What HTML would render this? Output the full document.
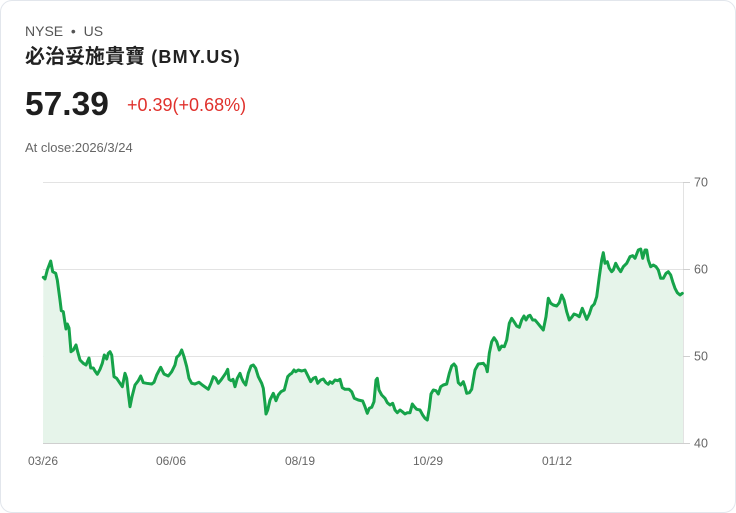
<!DOCTYPE html>
<html><head><meta charset="utf-8">
<style>
html,body{margin:0;padding:0;background:#fff;}
body{width:736px;height:513px;overflow:hidden;position:relative;font-family:"Liberation Sans","Noto Sans CJK TC",sans-serif;}
.card{position:absolute;left:0;top:0;width:734px;height:511px;border:1px solid #e2e6ec;border-radius:12px;background:#fff;}
.t{position:absolute;white-space:nowrap;line-height:1;}
</style></head><body>
<div class="card"></div>
<div class="t" style="left:25px;top:24px;font-size:14px;color:#555;">NYSE&nbsp; • &nbsp;US</div>
<div class="t" style="left:25px;top:47px;font-size:20px;font-weight:bold;color:#222;"><span>必治妥施貴寶</span><span style="font-size:18px;letter-spacing:1.2px;"> (BMY.US)</span></div>
<div class="t" style="left:25px;top:88px;font-size:33.5px;font-weight:bold;color:#1e1e1e;">57.39</div>
<div class="t" style="left:127px;top:96px;font-size:18px;color:#e0312c;">+0.39(+0.68%)</div>
<div class="t" style="left:25px;top:141px;font-size:13px;color:#666;">At close:2026/3/24</div>
<svg width="736" height="513" style="position:absolute;left:0;top:0;" xmlns="http://www.w3.org/2000/svg">
<g stroke="#e3e3e3" stroke-width="1">
<line x1="43" y1="182.5" x2="690" y2="182.5"/>
<line x1="43" y1="269.5" x2="690" y2="269.5"/>
<line x1="43" y1="356.5" x2="690" y2="356.5"/>
<line x1="683.5" y1="182" x2="683.5" y2="443"/>
</g>
<path fill="#e6f4ea" stroke="none" d="M43.3,277.3 L45,279 L47.3,270 L50.7,261 L52.7,271.7 L55.7,273.3 L57.3,280 L60,300 L61.3,310.7 L63.3,311.7 L65,323 L66,329 L67.3,324 L69,328 L71,351.7 L73.3,350 L76,345 L77.7,351.7 L80,360 L83.3,363.3 L86,365 L89,358 L90.7,368 L93.3,368 L95,371 L97.3,374.3 L100,369.3 L102.3,363.3 L104.3,355 L106.7,359 L108.3,353.3 L110,351.7 L111.7,355 L114,376.7 L116.7,378.3 L120,383.3 L122.3,386.7 L125,373.3 L126.7,378.3 L128.3,393.3 L130,406.7 L132,396.7 L135,385 L138.3,380.7 L140.7,376 L143.3,382.7 L146.7,383.3 L151.7,384 L154,382.3 L156.7,375 L160.7,367.3 L164,374 L168.3,376 L171.7,371.7 L175,365 L176.7,357.3 L179.3,355 L181.7,350 L184,356.7 L186.7,366.7 L189,378.3 L191.7,383.3 L195,384 L199,382.3 L202.3,385 L208.3,389.3 L211,383.3 L213.3,376.7 L215.7,378.3 L218.3,383.3 L221,380 L223.3,376.7 L225.7,373.3 L227.7,369.3 L229,379.3 L231,380.7 L233,379.3 L235,386.7 L237.3,378.3 L240,373.3 L241.7,378.3 L243.3,381.7 L245.7,385 L248.3,373.3 L251,366 L253.3,365 L255.7,368.3 L258.3,376.7 L261.7,383.3 L263.3,388.3 L265,403.3 L266,414 L267.7,410 L270,400 L273.3,393.3 L276,400.7 L278.3,395 L281,391.7 L284.3,390 L287.7,376.7 L290,374.3 L291.7,373.3 L294,370 L295.7,371.7 L298.3,370 L301.7,371 L305,370 L308.3,376.7 L310.7,381.7 L313.3,378.3 L315.7,377.3 L317.7,383.3 L320.7,380 L323.3,379 L326,382.7 L328.3,384.3 L330,381.7 L332.3,383.3 L335,380 L337.7,380.7 L340,379.3 L342.3,387.7 L345,389.3 L349,389.3 L351.7,391.7 L354.3,398.3 L356,399 L358.3,400 L362.7,401 L365,406.7 L367.3,413.3 L369.3,408.3 L371.7,407.3 L374,401.7 L376,380 L377.3,378.3 L379,390 L381.7,395 L385,398.3 L387.3,402.7 L390,405 L392.7,403.3 L395,410 L397.3,412.7 L400,410 L402.3,411.7 L405,414 L407.3,412.7 L410,412.7 L412.3,404 L414.3,406.7 L416.7,409.3 L420,410 L422.7,415 L425,418.3 L427.3,420 L429.3,408.3 L431,394 L433.3,390 L436,390.7 L438.3,394 L440.7,386.7 L443.3,385 L446.7,384 L449.3,373.3 L451.7,366 L454,364 L456,366.7 L458.3,382.7 L460.7,385 L463.3,381.7 L465,386.7 L466.7,393.3 L469.3,392.7 L471.7,389.3 L475,370 L478.3,364 L483.3,363.3 L486,366.7 L487.3,371.7 L489.3,353.3 L491.7,341.7 L494,337.7 L496.7,341.7 L499.3,350 L501.7,346 L504.3,346.7 L506.7,340 L509.3,323.3 L511.7,318.3 L514,321.7 L516.7,326 L519.3,327.3 L521.7,320 L524,316 L526,320 L528.3,316 L530,315.3 L532.7,320 L535,320 L537.3,322.7 L540,326 L543.3,330 L546,316.7 L548.3,298.3 L550.7,303.3 L553.3,305 L556.7,306 L559.3,302.7 L561.7,295 L564,300 L566.7,311.7 L569.3,320 L571.7,317.3 L574,314 L576.7,315 L579.3,316.7 L582.3,308.3 L584.3,313.3 L586.7,319.3 L589.3,314 L591.7,306.7 L594.3,304 L596.7,296.7 L599.3,276.7 L601.7,260 L603.3,252.7 L605,263.3 L607.3,261.7 L609.3,268.3 L611.7,271.7 L613.3,270 L615.7,263.3 L618.3,268.3 L620.7,271.7 L623.3,266.7 L626.7,263.3 L630,256.7 L632.7,255.7 L635,258.3 L638.3,250 L640.7,249 L642.7,258.3 L645,250 L646.7,250 L648.3,260 L650.7,266.7 L653.3,265 L656,266.7 L658.3,270 L660.7,278.3 L663.3,278.3 L666,273.3 L668.3,271.7 L670.7,275 L672.7,281.7 L675,288.3 L677.3,292.7 L680,295 L682.3,293.3 L683,293.3 L683,443 L43,443 Z"/>
<line x1="43" y1="443.5" x2="690" y2="443.5" stroke="#cfcfcf" stroke-width="1"/>
<g stroke="#cfcfcf" stroke-width="1">
<line x1="683" y1="182.5" x2="690" y2="182.5"/>
<line x1="683" y1="269.5" x2="690" y2="269.5"/>
<line x1="683" y1="356.5" x2="690" y2="356.5"/>
</g>
<polyline fill="none" stroke="#16a34a" stroke-width="3" stroke-linejoin="round" stroke-linecap="round" points="43.3,277.3 45,279 47.3,270 50.7,261 52.7,271.7 55.7,273.3 57.3,280 60,300 61.3,310.7 63.3,311.7 65,323 66,329 67.3,324 69,328 71,351.7 73.3,350 76,345 77.7,351.7 80,360 83.3,363.3 86,365 89,358 90.7,368 93.3,368 95,371 97.3,374.3 100,369.3 102.3,363.3 104.3,355 106.7,359 108.3,353.3 110,351.7 111.7,355 114,376.7 116.7,378.3 120,383.3 122.3,386.7 125,373.3 126.7,378.3 128.3,393.3 130,406.7 132,396.7 135,385 138.3,380.7 140.7,376 143.3,382.7 146.7,383.3 151.7,384 154,382.3 156.7,375 160.7,367.3 164,374 168.3,376 171.7,371.7 175,365 176.7,357.3 179.3,355 181.7,350 184,356.7 186.7,366.7 189,378.3 191.7,383.3 195,384 199,382.3 202.3,385 208.3,389.3 211,383.3 213.3,376.7 215.7,378.3 218.3,383.3 221,380 223.3,376.7 225.7,373.3 227.7,369.3 229,379.3 231,380.7 233,379.3 235,386.7 237.3,378.3 240,373.3 241.7,378.3 243.3,381.7 245.7,385 248.3,373.3 251,366 253.3,365 255.7,368.3 258.3,376.7 261.7,383.3 263.3,388.3 265,403.3 266,414 267.7,410 270,400 273.3,393.3 276,400.7 278.3,395 281,391.7 284.3,390 287.7,376.7 290,374.3 291.7,373.3 294,370 295.7,371.7 298.3,370 301.7,371 305,370 308.3,376.7 310.7,381.7 313.3,378.3 315.7,377.3 317.7,383.3 320.7,380 323.3,379 326,382.7 328.3,384.3 330,381.7 332.3,383.3 335,380 337.7,380.7 340,379.3 342.3,387.7 345,389.3 349,389.3 351.7,391.7 354.3,398.3 356,399 358.3,400 362.7,401 365,406.7 367.3,413.3 369.3,408.3 371.7,407.3 374,401.7 376,380 377.3,378.3 379,390 381.7,395 385,398.3 387.3,402.7 390,405 392.7,403.3 395,410 397.3,412.7 400,410 402.3,411.7 405,414 407.3,412.7 410,412.7 412.3,404 414.3,406.7 416.7,409.3 420,410 422.7,415 425,418.3 427.3,420 429.3,408.3 431,394 433.3,390 436,390.7 438.3,394 440.7,386.7 443.3,385 446.7,384 449.3,373.3 451.7,366 454,364 456,366.7 458.3,382.7 460.7,385 463.3,381.7 465,386.7 466.7,393.3 469.3,392.7 471.7,389.3 475,370 478.3,364 483.3,363.3 486,366.7 487.3,371.7 489.3,353.3 491.7,341.7 494,337.7 496.7,341.7 499.3,350 501.7,346 504.3,346.7 506.7,340 509.3,323.3 511.7,318.3 514,321.7 516.7,326 519.3,327.3 521.7,320 524,316 526,320 528.3,316 530,315.3 532.7,320 535,320 537.3,322.7 540,326 543.3,330 546,316.7 548.3,298.3 550.7,303.3 553.3,305 556.7,306 559.3,302.7 561.7,295 564,300 566.7,311.7 569.3,320 571.7,317.3 574,314 576.7,315 579.3,316.7 582.3,308.3 584.3,313.3 586.7,319.3 589.3,314 591.7,306.7 594.3,304 596.7,296.7 599.3,276.7 601.7,260 603.3,252.7 605,263.3 607.3,261.7 609.3,268.3 611.7,271.7 613.3,270 615.7,263.3 618.3,268.3 620.7,271.7 623.3,266.7 626.7,263.3 630,256.7 632.7,255.7 635,258.3 638.3,250 640.7,249 642.7,258.3 645,250 646.7,250 648.3,260 650.7,266.7 653.3,265 656,266.7 658.3,270 660.7,278.3 663.3,278.3 666,273.3 668.3,271.7 670.7,275 672.7,281.7 675,288.3 677.3,292.7 680,295 682.3,293.3"/>
<g font-family="Liberation Sans, sans-serif" font-size="12.5" fill="#666">
<text x="694" y="186.5">70</text>
<text x="694" y="273.5">60</text>
<text x="694" y="360.5">50</text>
<text x="694" y="447.5">40</text>
</g>
<g font-family="Liberation Sans, sans-serif" font-size="12" fill="#666" text-anchor="middle">
<text x="43" y="465">03/26</text>
<text x="171" y="465">06/06</text>
<text x="300" y="465">08/19</text>
<text x="428" y="465">10/29</text>
<text x="557" y="465">01/12</text>
</g>
</svg>
</body></html>
